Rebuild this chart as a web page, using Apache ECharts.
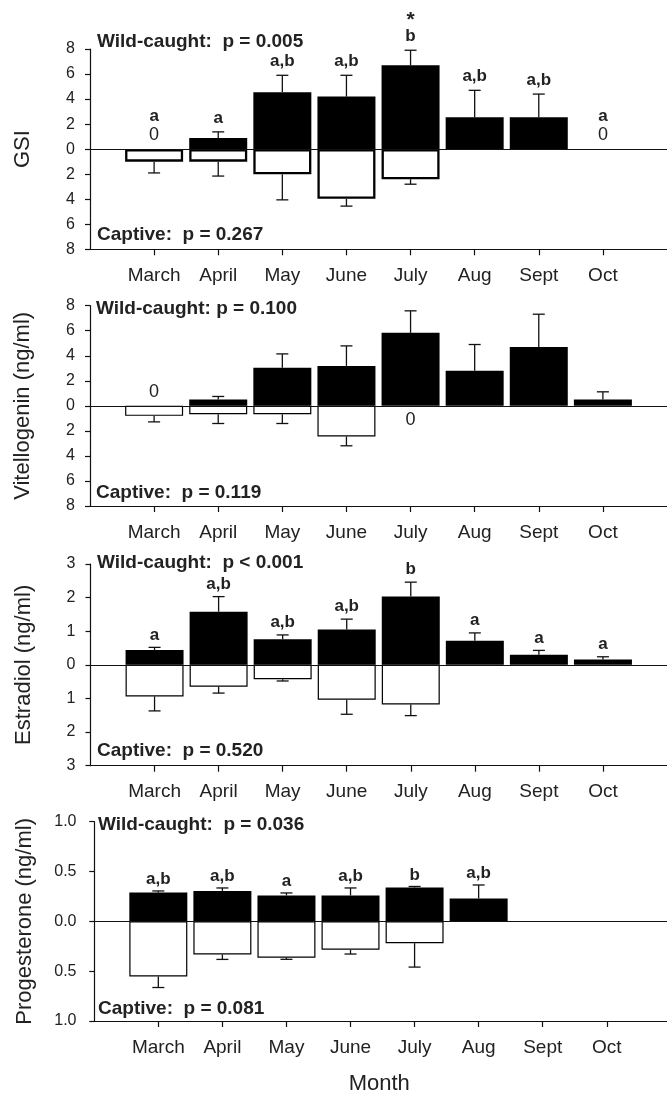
<!DOCTYPE html>
<html>
<head>
<meta charset="utf-8">
<script src="https://cdn.jsdelivr.net/npm/echarts@6/dist/echarts.min.js"></script>
<style>
html,body{margin:0;padding:0;background:#fff;}
#chart{width:667px;height:1096px;}
</style>
</head>
<body>
<div id="chart"></div>
<script>
// ---------- DATA ----------
const months = ['March', 'April', 'May', 'June', 'July', 'Aug', 'Sept', 'Oct'];
const monthPos = [1, 2, 3, 4, 5, 6, 7, 8];

// GSI
const gsiWild = [0, 0.9, 4.55, 4.2, 6.7, 2.55, 2.55, 0];
const gsiWildSem = [0, 0.48, 1.35, 1.7, 1.2, 2.15, 1.85, 0];
const gsiCaptive = [1.0, 1.0, 2.0, 3.97, 2.4, null, null, null];
const gsiCaptiveSem = [0.9, 1.15, 2.05, 0.58, 0.4, null, null, null];
const gsiLetters = ['a', 'a', 'a,b', 'a,b', 'b', 'a,b', 'a,b', 'a'];
const gsiMarks = ['', '', '', '', '*', '', '', ''];
const gsiTicks = [-8, -6, -4, -2, 0, 2, 4, 6, 8];

// Vitellogenin (ng/ml)
const vtgWild = [0, 0.51, 3.04, 3.19, 5.83, 2.8, 4.71, 0.51];
const vtgWildSem = [0, 0.24, 1.11, 1.6, 1.76, 2.1, 2.61, 0.61];
const vtgCaptive = [0.8, 0.67, 0.67, 2.45, 0, null, null, null];
const vtgCaptiveSem = [0.48, 0.74, 0.74, 0.74, 0, null, null, null];
const vtgLetters = ['', '', '', '', '', '', '', ''];
const vtgMarks = ['', '', '', '', '', '', '', ''];

// Estradiol (ng/ml)
const e2Wild = [0.44, 1.58, 0.76, 1.05, 2.03, 0.72, 0.30, 0.16];
const e2WildSem = [0.08, 0.45, 0.13, 0.31, 0.43, 0.23, 0.13, 0.08];
const e2Captive = [0.94, 0.65, 0.43, 1.04, 1.18, null, null, null];
const e2CaptiveSem = [0.43, 0.19, 0.05, 0.43, 0.33, null, null, null];
const e2Letters = ['a', 'a,b', 'a,b', 'a,b', 'b', 'a', 'a', 'a'];
const e2Marks = ['', '', '', '', '', '', '', ''];

// Progesterone (ng/ml)
const p4Wild = [0.29, 0.305, 0.26, 0.26, 0.34, 0.23, null, null];
const p4WildSem = [0.015, 0.03, 0.025, 0.075, 0.01, 0.135, null, null];
const p4Captive = [0.554, 0.332, 0.365, 0.285, 0.219, null, null, null];
const p4CaptiveSem = [0.11, 0.05, 0.016, 0.043, 0.24, null, null, null];
const p4Letters = ['a,b', 'a,b', 'a', 'a,b', 'b', 'a,b', '', ''];
const p4Marks = ['', '', '', '', '', '', '', ''];

const yNames = ['GSI', 'Vitellogenin (ng/ml)', 'Estradiol (ng/ml)', 'Progesterone (ng/ml)'];
const wildTexts = ['Wild-caught:  p = 0.005', 'Wild-caught: p = 0.100', 'Wild-caught:  p < 0.001', 'Wild-caught:  p = 0.036'];
const captiveTexts = ['Captive:  p = 0.267', 'Captive:  p = 0.119', 'Captive:  p = 0.520', 'Captive:  p = 0.081'];
const xName = 'Month';

// ---------- STYLE / LAYOUT ----------
const FONT = '"Liberation Sans", Arial, Helvetica, sans-serif';
const INK = '#111';
const TXT = '#222';

const panels = [
  { wild: gsiWild, wildSem: gsiWildSem, cap: gsiCaptive, capSem: gsiCaptiveSem, letters: gsiLetters, marks: gsiMarks,
    yMin: -8, yMax: 8, yInt: 2, dec: 0, left: 90, top: 49, height: 200.3, xMin: 0, xMax: 9,
    border: 2.3, gap: 14, wildY: 41.7, capY: 235, txtX: 97 },
  { wild: vtgWild, wildSem: vtgWildSem, cap: vtgCaptive, capSem: vtgCaptiveSem, letters: vtgLetters, marks: vtgMarks,
    yMin: -8, yMax: 8, yInt: 2, dec: 0, left: 90, top: 305.7, height: 200.3, xMin: 0, xMax: 9,
    border: 1.2, gap: 14, wildY: 308.3, capY: 492.3, txtX: 96 },
  { wild: e2Wild, wildSem: e2WildSem, cap: e2Captive, capSem: e2CaptiveSem, letters: e2Letters, marks: e2Marks,
    yMin: -3, yMax: 3, yInt: 1, dec: 0, left: 90.5, top: 564, height: 201.7, xMin: 0, xMax: 9,
    border: 1.2, gap: 12.5, wildY: 562.3, capY: 750.7, txtX: 97 },
  { wild: p4Wild, wildSem: p4WildSem, cap: p4Captive, capSem: p4CaptiveSem, letters: p4Letters, marks: p4Marks,
    yMin: -1, yMax: 1, yInt: 0.5, dec: 1, left: 91.5, top: 821.7, height: 201, xMin: -0.043, xMax: 8.94,
    border: 1.2, gap: 11.5, wildY: 825, capY: 1009, txtX: 98 }
];

const grids = [], xAxes = [], yAxes = [], series = [], graphics = [];

function textEl(x, y, text, font, align, vAlign) {
  return { type: 'text', x: x, y: y, silent: true,
    style: { text: text, font: font, fill: TXT, align: align, verticalAlign: vAlign,
             textAlign: align, textVerticalAlign: vAlign } };
}

panels.forEach(function (p, k) {
  grids.push({ left: p.left, right: -3, top: p.top, height: p.height, containLabel: false });
  const isLast = k === panels.length - 1;
  xAxes.push({
    type: 'value', gridIndex: k, min: p.xMin, max: p.xMax,
    splitLine: { show: false },
    axisLine: { show: true, onZero: false, lineStyle: { color: INK, width: 1.2 } },
    axisTick: { show: true, length: 6, lineStyle: { color: INK, width: 1.2 }, customValues: monthPos },
    axisLabel: { show: true, customValues: monthPos, margin: 17, fontSize: 19, fontFamily: FONT, color: TXT,
      formatter: function (v) { const i = Math.round(v) - 1; return months[i] !== undefined ? months[i] : ''; } },
    name: isLast ? xName : '', nameLocation: 'middle', nameGap: 52,
    nameTextStyle: { fontSize: 22, fontFamily: FONT, color: TXT }
  });
  yAxes.push({
    type: 'value', gridIndex: k, min: p.yMin, max: p.yMax, interval: p.yInt,
    splitLine: { show: false },
    axisLine: { show: true, lineStyle: { color: INK, width: 1.2 } },
    axisTick: { show: true, length: 5, lineStyle: { color: INK, width: 1.2 } },
    axisLabel: { margin: 15, fontSize: 16, fontFamily: FONT, color: TXT,
      formatter: function (v) { return Math.abs(v).toFixed(p.dec); } },
    name: yNames[k], nameLocation: 'middle', nameGap: 56, nameRotate: 90,
    nameTextStyle: { fontSize: 22, fontFamily: FONT, color: TXT }
  });

  const wildData = [], capData = [], errData = [], annData = [];
  monthPos.forEach(function (x, i) {
    const w = p.wild[i], ws = p.wildSem[i], c = p.cap[i], cs = p.capSem[i];
    if (w !== null && w > 0) wildData.push([x, w]);
    if (c !== null && c > 0) capData.push([x, -c]);
    if (w !== null && ws) errData.push([x, w, w + ws]);
    if (c !== null && cs) errData.push([x, -c, -(c + cs)]);
    if (w !== null || p.letters[i]) {
      const top = (w === null) ? 0 : w + (ws || 0);
      annData.push({ value: [x, top], i: i, kind: 'wild', zero: w === 0 });
    }
    if (c === 0) annData.push({ value: [x, 0], i: i, kind: 'capzero', zero: true });
  });

  series.push({
    type: 'bar', name: 'Wild-caught', xAxisIndex: k, yAxisIndex: k, data: wildData,
    barWidth: 58, barGap: '-100%', itemStyle: { color: '#000' }, silent: true, animation: false,
    markLine: { silent: true, symbol: 'none', label: { show: false },
      lineStyle: { color: INK, width: 1.2, type: 'solid' }, data: [{ yAxis: 0 }] }
  });
  series.push({
    type: 'bar', name: 'Captive', xAxisIndex: k, yAxisIndex: k, data: capData,
    barWidth: 58, barGap: '-100%', itemStyle: { color: '#fff', borderColor: '#000', borderWidth: p.border },
    silent: true, animation: false
  });
  series.push({
    type: 'custom', xAxisIndex: k, yAxisIndex: k, data: errData, encode: { x: 0, y: [1, 2] },
    silent: true, animation: false, z: 1,
    renderItem: function (params, api) {
      const x = api.value(0);
      const a = api.coord([x, api.value(1)]);
      const b = api.coord([x, api.value(2)]);
      const st = { stroke: INK, lineWidth: 1.3 };
      return { type: 'group', children: [
        { type: 'line', shape: { x1: a[0], y1: a[1], x2: b[0], y2: b[1] }, style: st },
        { type: 'line', shape: { x1: b[0] - 6, y1: b[1], x2: b[0] + 6, y2: b[1] }, style: st }
      ] };
    }
  });
  series.push({
    type: 'custom', xAxisIndex: k, yAxisIndex: k, data: annData, encode: { x: 0, y: 1 },
    silent: true, animation: false, z: 3,
    renderItem: function (params, api) {
      const item = annData[params.dataIndex];
      const pt = api.coord([api.value(0), api.value(1)]);
      const kids = [];
      if (item.kind === 'capzero') {
        kids.push(textEl(pt[0], pt[1] + 14.3, '0', '18px ' + FONT, 'center', 'middle'));
      } else {
        let ly = pt[1] - p.gap;
        if (item.zero) {
          const zy = pt[1] - 13.8;
          kids.push(textEl(pt[0], zy, '0', '18px ' + FONT, 'center', 'middle'));
          ly = zy - 18.7;
        }
        const L = p.letters[item.i];
        if (L) kids.push(textEl(pt[0], ly, L, 'bold 17px ' + FONT, 'center', 'middle'));
        const M = p.marks[item.i];
        if (M) kids.push(textEl(pt[0], ly - 16.5, M, 'bold 21px ' + FONT, 'center', 'middle'));
      }
      return { type: 'group', children: kids };
    }
  });

  graphics.push(textEl(p.txtX, p.wildY, wildTexts[k], 'bold 19px ' + FONT, 'left', 'middle'));
  graphics.push(textEl(p.txtX, p.capY, captiveTexts[k], 'bold 19px ' + FONT, 'left', 'middle'));
});

const chart = echarts.init(document.getElementById('chart'), null, { renderer: 'canvas' });
chart.setOption({
  animation: false,
  backgroundColor: '#fff',
  grid: grids,
  xAxis: xAxes,
  yAxis: yAxes,
  series: series,
  graphic: { elements: graphics }
});
</script>
</body>
</html>
